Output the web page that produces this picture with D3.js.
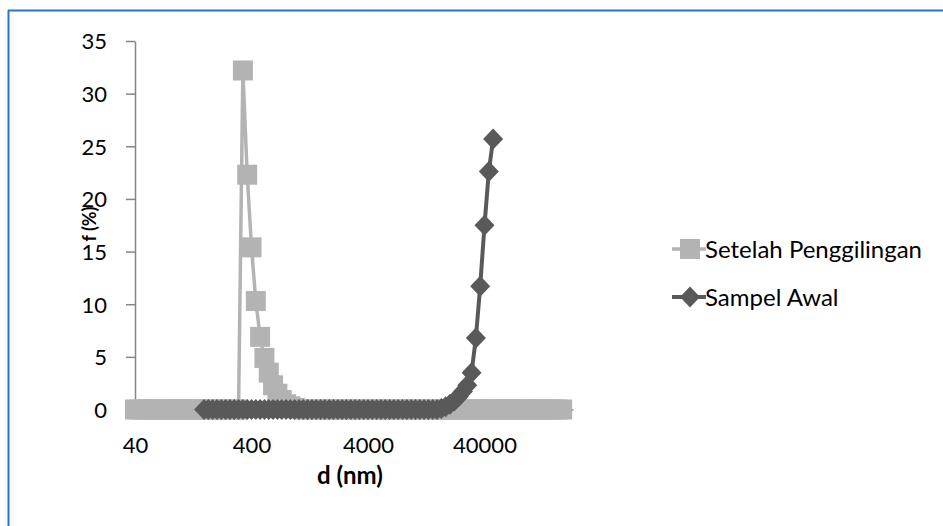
<!DOCTYPE html>
<html>
<head>
<meta charset="utf-8">
<script src="https://cdn.jsdelivr.net/npm/d3@7"></script>
<style>
body { margin: 0; background: #fff; }
text { font-family: Lato, "Open Sans", sans-serif; fill: #000; }
.axis path, .axis line { stroke: #868686; stroke-width: 1.5; }
</style>
</head>
<body>
<div id="chart"></div>
<script>
// particle size bins (nm)
var sizeBins = [
  40, 43.56, 47.44, 51.66, 56.26, 61.27, 66.72, 72.66, 79.13, 86.18, 93.85, 102.2, 111.3, 121.2, 132.0, 143.7, 156.6, 170.5, 185.7, 202.2, 220.2, 239.8, 261.1, 284.4, 309.7, 337.3, 367.3,
  400, 435.6, 474.4, 516.6, 562.6, 612.7, 667.2, 726.6, 791.3, 861.8, 938.5, 1022, 1113, 1212, 1320, 1437, 1566, 1705, 1857, 2022, 2202, 2398, 2611, 2844, 3097, 3373, 3673,
  4000, 4356, 4744, 5166, 5626, 6127, 6672, 7266, 7913, 8618, 9385, 10220, 11130, 12120, 13200, 14370, 15660, 17050, 18570, 20220, 22020, 23980, 26110, 28440, 30970, 33730, 36730,
  40000, 43560, 47440, 51660, 56260, 61270, 66720, 72660, 79130, 86180, 93850, 102200, 111300, 121200, 132000, 143700, 156600, 170500, 185700
];

// f (%) after milling
var setelahPenggilingan = [
  0, 0, 0, 0, 0, 0, 0, 0, 0, 0, 0, 0, 0, 0, 0, 0, 0, 0, 0, 0, 0, 0, 0, 0, 0, 32.2, 22.3,
  15.4, 10.3, 6.9, 4.9, 3.5, 2.3, 1.5, 0.9, 0.5, 0.3, 0.15, 0.05, 0, 0, 0, 0, 0, 0, 0, 0, 0, 0, 0, 0, 0, 0, 0,
  0, 0, 0, 0, 0, 0, 0, 0, 0, 0, 0, 0, 0, 0, 0, 0, 0, 0, 0, 0, 0, 0, 0, 0, 0, 0, 0,
  0, 0, 0, 0, 0, 0, 0, 0, 0, 0, 0, 0, 0, 0, 0, 0, 0, 0, 0
];

// f (%) initial sample (no data in the first bins)
var sampelAwal = [
  null, null, null, null, null, null, null, null, null, null, null, null, null, null, null, null, 0, 0, 0, 0, 0, 0, 0, 0, 0, 0, 0,
  0, 0, 0, 0, 0, 0, 0, 0, 0, 0, 0, 0, 0, 0, 0, 0, 0, 0, 0, 0, 0, 0, 0, 0, 0, 0, 0,
  0, 0, 0, 0, 0, 0, 0, 0, 0, 0, 0, 0, 0, 0, 0, 0, 0, 0.1, 0.25, 0.5, 0.8, 1.2, 1.7, 2.3, 3.5, 6.8, 11.7,
  17.5, 22.6, 25.7
];

var seriesNames = ["Setelah Penggilingan", "Sampel Awal"];
var yTicks = [0, 5, 10, 15, 20, 25, 30, 35];
var xTicks = [40, 400, 4000, 40000];

// svg params
var svgWidth = 943;
var svgHeight = 526;

var margin = { top: 41, right: 370, bottom: 116.5, left: 135 };

var chartWidth = 438;
var chartHeight = svgHeight - margin.top - margin.bottom;

var svg = d3.select("#chart").append("svg")
  .attr("width", svgWidth)
  .attr("height", svgHeight);

// blue frame edges
svg.append("line")
  .attr("x1", 8).attr("y1", 10.5).attr("x2", svgWidth).attr("y2", 10.5)
  .attr("stroke", "#2b74c2").attr("stroke-width", 2);
svg.append("line")
  .attr("x1", 8.5).attr("y1", 10).attr("x2", 8.5).attr("y2", svgHeight)
  .attr("stroke", "#2b74c2").attr("stroke-width", 2);

var chartGroup = svg.append("g")
  .attr("transform", `translate(${margin.left}, ${margin.top})`);

// scales
var xScale = d3.scaleLog()
  .domain([40, 230000])
  .range([0, chartWidth]);

var yScale = d3.scaleLinear()
  .domain([0, 35])
  .range([chartHeight, 0]);

// axes
var yAxis = d3.axisLeft(yScale)
  .tickValues(yTicks)
  .tickSize(9)
  .tickSizeOuter(0)
  .tickPadding(19);

var xAxis = d3.axisBottom(xScale)
  .tickValues(xTicks)
  .tickFormat(d3.format("d"))
  .tickSize(9)
  .tickSizeOuter(0)
  .tickPadding(19);

var xAxisGroup = chartGroup.append("g")
  .attr("class", "axis")
  .attr("transform", `translate(0, ${chartHeight})`)
  .call(xAxis);
xAxisGroup.selectAll("text").attr("font-size", 22);

var yAxisGroup = chartGroup.append("g")
  .attr("class", "axis")
  .call(yAxis);
yAxisGroup.selectAll("text").attr("font-size", 22).attr("dy", "0.36em");

// axis titles
chartGroup.append("text")
  .attr("transform", `translate(-45, ${224 - margin.top}) rotate(-90)`)
  .attr("text-anchor", "middle")
  .attr("dy", "0.36em")
  .attr("font-size", 18)
  .attr("font-weight", "bold")
  .text("f (%)");

chartGroup.append("text")
  .attr("x", chartWidth / 2 - 4)
  .attr("y", 475 - margin.top)
  .attr("text-anchor", "middle")
  .attr("dy", "0.36em")
  .attr("font-size", 24)
  .attr("font-weight", "bold")
  .text("d (nm)");

var lineGen = d3.line()
  .defined(d => d[1] !== null)
  .x(d => xScale(d[0]))
  .y(d => yScale(d[1]));

var setelahData = sizeBins.map((d, i) => [d, setelahPenggilingan[i]]);
var sampelData = sampelAwal.map((d, i) => [sizeBins[i], d]);

var setelahColor = "#b3b3b3";
var sampelColor = "#595959";

// Setelah Penggilingan: line + square markers
chartGroup.append("path")
  .datum(setelahData)
  .attr("fill", "none")
  .attr("stroke", setelahColor)
  .attr("stroke-width", 3.5)
  .attr("stroke-linejoin", "round")
  .attr("d", lineGen);

chartGroup.append("g").selectAll("rect")
  .data(setelahData)
  .enter()
  .append("rect")
  .attr("x", d => xScale(d[0]) - 10)
  .attr("y", d => yScale(d[1]) - 10)
  .attr("width", 20)
  .attr("height", 20)
  .attr("fill", setelahColor);

// Sampel Awal: line + diamond markers
var diamond = "M0,-10.5L10,0L0,10.5L-10,0Z";

chartGroup.append("path")
  .datum(sampelData)
  .attr("fill", "none")
  .attr("stroke", sampelColor)
  .attr("stroke-width", 4)
  .attr("stroke-linejoin", "round")
  .attr("d", lineGen);

chartGroup.append("g").selectAll("path")
  .data(sampelData.filter(d => d[1] !== null))
  .enter()
  .append("path")
  .attr("transform", d => `translate(${xScale(d[0])}, ${yScale(d[1])})`)
  .attr("d", diamond)
  .attr("fill", sampelColor);

// legend
var legend = svg.append("g")
  .attr("transform", "translate(672, 249)");

var legendRows = legend.selectAll("g")
  .data(seriesNames)
  .enter()
  .append("g")
  .attr("transform", (d, i) => `translate(0, ${i * 48})`);

legendRows.append("line")
  .attr("x1", 0).attr("x2", 34)
  .attr("stroke", (d, i) => i == 0 ? setelahColor : sampelColor)
  .attr("stroke-width", (d, i) => i == 0 ? 3.5 : 4);

legendRows.filter((d, i) => i == 0).append("rect")
  .attr("x", 8).attr("y", -10)
  .attr("width", 20).attr("height", 20)
  .attr("fill", setelahColor);

legendRows.filter((d, i) => i == 1).append("path")
  .attr("transform", "translate(18, 0)")
  .attr("d", diamond)
  .attr("fill", sampelColor);

legendRows.append("text")
  .attr("x", 33)
  .attr("dy", "0.36em")
  .attr("font-size", 24)
  .text(d => d);
</script>
</body>
</html>
